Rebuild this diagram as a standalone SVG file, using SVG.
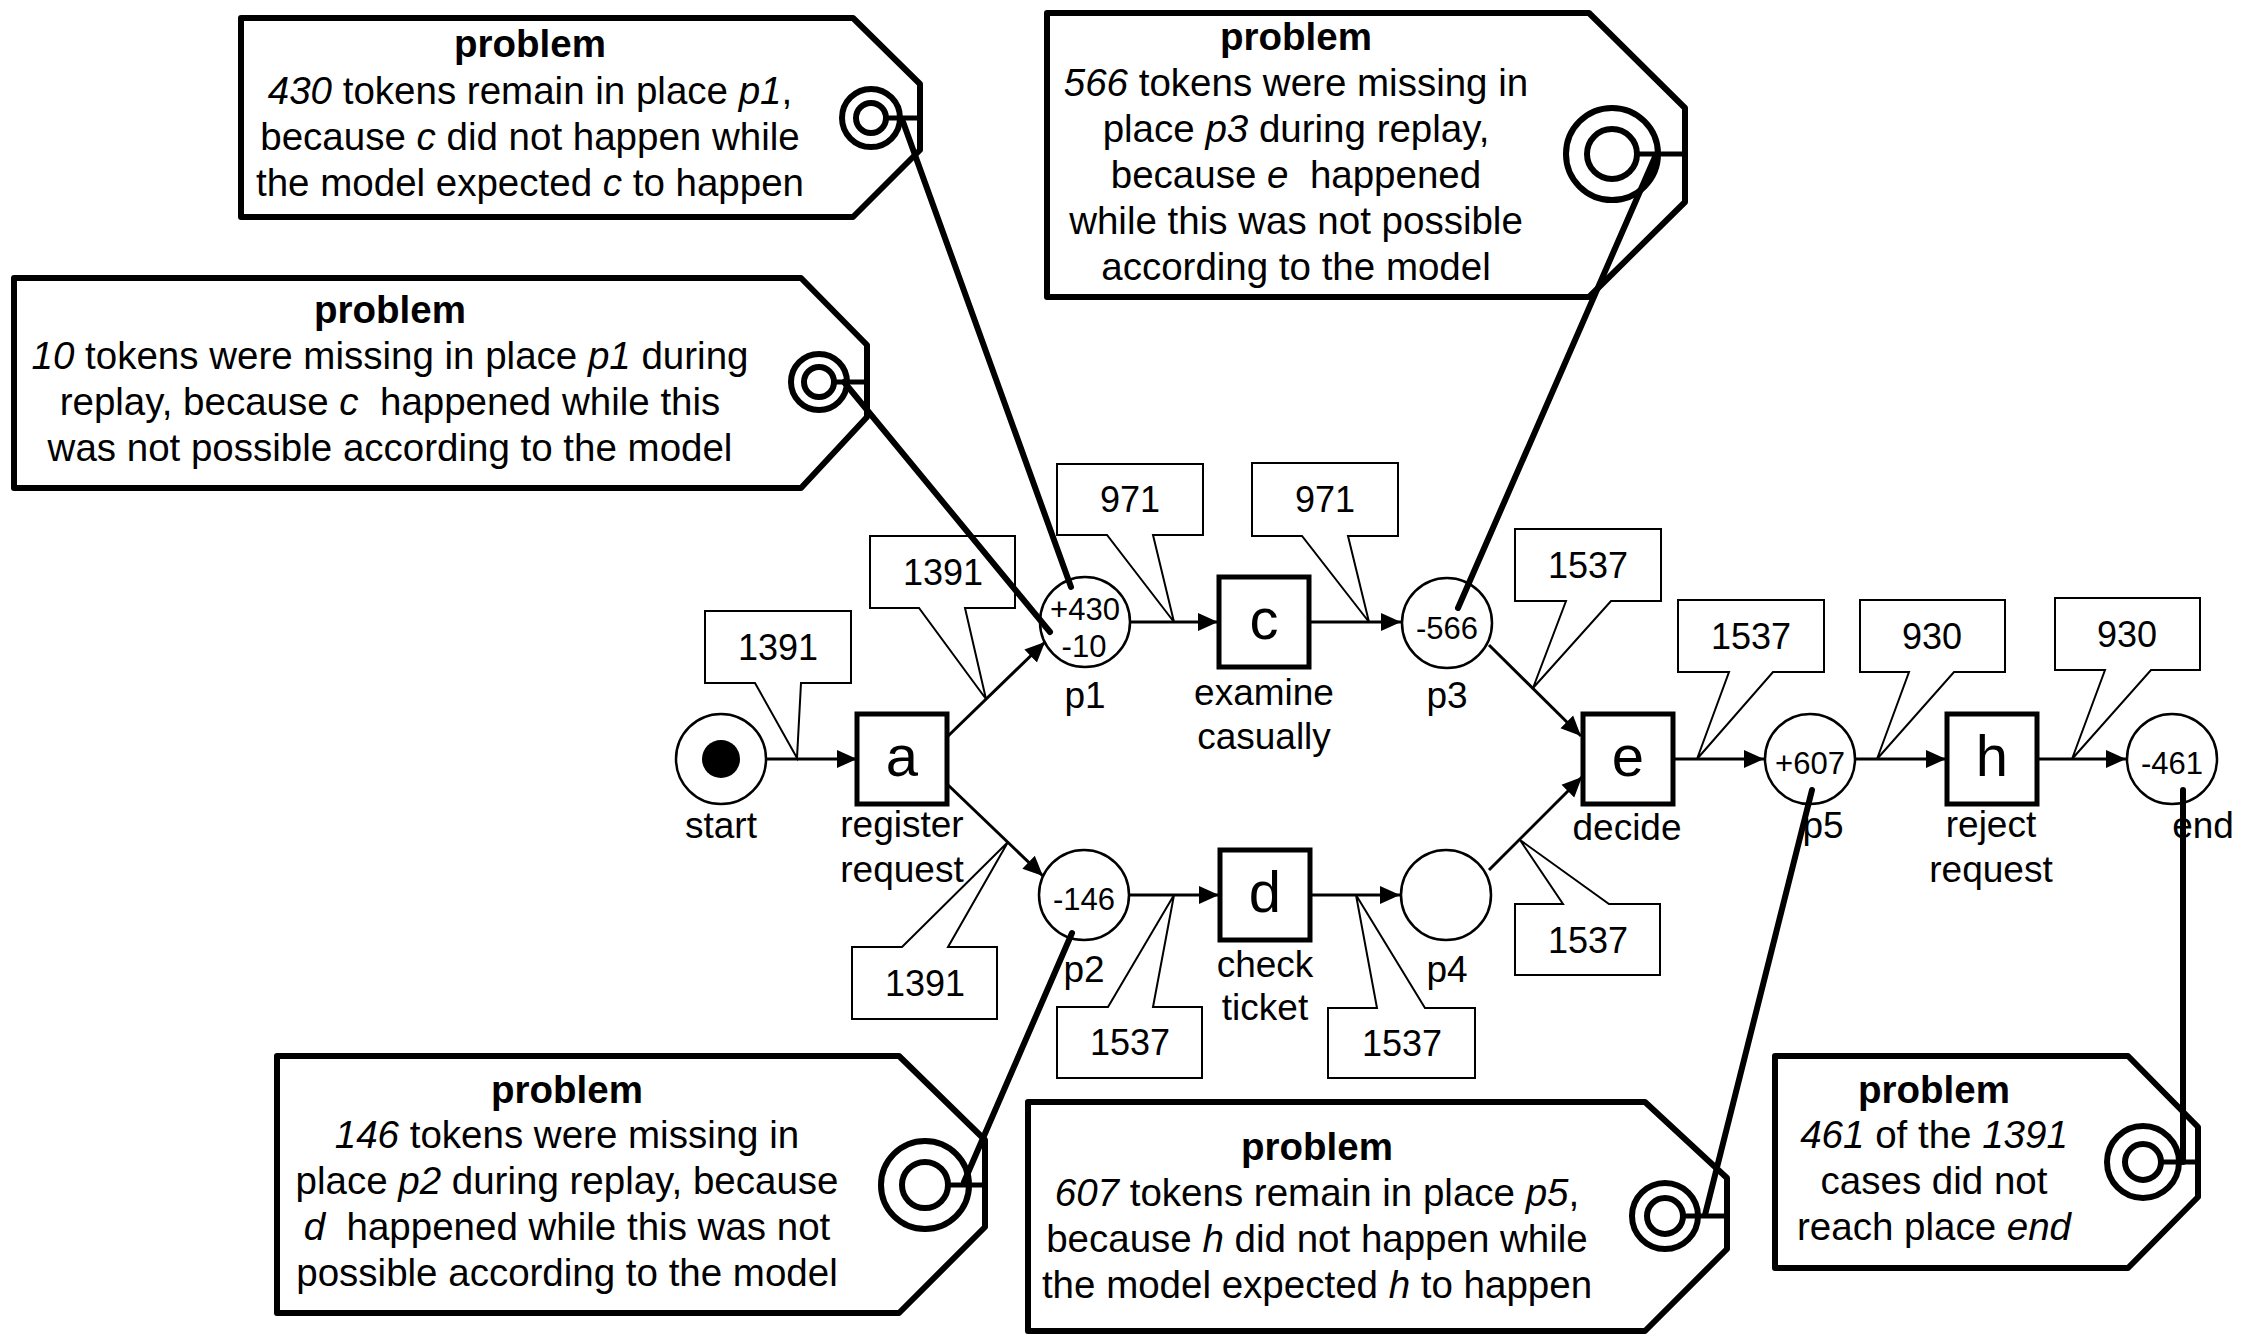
<svg xmlns="http://www.w3.org/2000/svg" width="2252" height="1336" viewBox="0 0 2252 1336">
<defs>
<marker id="ah" viewBox="0 0 20 20" refX="20" refY="10" markerWidth="20" markerHeight="20" markerUnits="userSpaceOnUse" orient="auto"><path d="M0,1 L20,10 L0,19 z" fill="#000"/></marker>
<style>
text{font-family:"Liberation Sans",Arial,sans-serif;fill:#000;text-anchor:middle}
.tag{fill:#fff;stroke:#000;stroke-width:6;stroke-linejoin:round}
.ring{fill:none;stroke:#000;stroke-width:6}
.stub{stroke:#000;stroke-width:5}
.conn{stroke:#000;stroke-width:6;stroke-linecap:round;fill:none}
.place{fill:#fff;stroke:#000;stroke-width:2.5}
.trans{fill:#fff;stroke:#000;stroke-width:5}
.arc{stroke:#000;stroke-width:3;fill:none;marker-end:url(#ah)}
.bub{fill:#fff;stroke:#000;stroke-width:2}
.tt{font-size:38.5px}
.tt .h{font-weight:bold}
.i{font-style:italic}
.lbl{font-size:37px}
.big{font-size:58px}
.num{font-size:31px}
.bn{font-size:36px}
</style>
</defs>
<rect width="2252" height="1336" fill="#fff"/>

<g id="arcs">
<line class="arc" x1="766" y1="759" x2="857" y2="759"/>
<line class="arc" x1="947" y1="737" x2="1045" y2="642"/>
<line class="arc" x1="947" y1="784" x2="1043" y2="876"/>
<line class="arc" x1="1130" y1="622" x2="1218" y2="622"/>
<line class="arc" x1="1310" y1="622" x2="1401" y2="622"/>
<line class="arc" x1="1489" y1="645" x2="1581" y2="736"/>
<line class="arc" x1="1489" y1="870" x2="1582" y2="777"/>
<line class="arc" x1="1672" y1="759" x2="1764" y2="759"/>
<line class="arc" x1="1855" y1="759" x2="1946" y2="759"/>
<line class="arc" x1="2037" y1="759" x2="2126" y2="759"/>
<line class="arc" x1="1129" y1="895" x2="1219" y2="895"/>
<line class="arc" x1="1311" y1="895" x2="1400" y2="895"/>
</g>

<g id="place-start"><circle class="place" cx="721" cy="759" r="45"/><circle cx="721" cy="759" r="19" fill="#000"/><text class="lbl" x="721" y="838">start</text></g>
<g id="place-p1"><circle class="place" cx="1085" cy="622" r="45"/><text class="num" x="1085" y="620">+430</text><text class="num" x="1084" y="657">-10</text><text class="lbl" x="1085" y="708">p1</text></g>
<g id="place-p3"><circle class="place" cx="1447" cy="623" r="45"/><text class="num" x="1447" y="639">-566</text><text class="lbl" x="1447" y="708">p3</text></g>
<g id="place-p2"><circle class="place" cx="1084" cy="895" r="45"/><text class="num" x="1084" y="910">-146</text><text class="lbl" x="1084" y="982">p2</text></g>
<g id="place-p4"><circle class="place" cx="1446" cy="895" r="45"/><text class="lbl" x="1447" y="982">p4</text></g>
<g id="place-p5"><circle class="place" cx="1810" cy="759" r="45"/><text class="num" x="1810" y="774">+607</text><text class="lbl" x="1823" y="838">p5</text></g>
<g id="place-end"><circle class="place" cx="2172" cy="759" r="45"/><text class="num" x="2172" y="774">-461</text><text class="lbl" x="2203" y="838">end</text></g>

<g id="trans-a"><rect class="trans" x="857" y="714" width="90" height="90"/><text class="big" x="902" y="776">a</text><text class="lbl" x="902" y="837">register</text><text class="lbl" x="902" y="882">request</text></g>
<g id="trans-c"><rect class="trans" x="1219" y="577" width="90" height="90"/><text class="big" x="1264" y="639">c</text><text class="lbl" x="1264" y="705">examine</text><text class="lbl" x="1264" y="749">casually</text></g>
<g id="trans-d"><rect class="trans" x="1220" y="850" width="90" height="90"/><text class="big" x="1265" y="912">d</text><text class="lbl" x="1265" y="977">check</text><text class="lbl" x="1265" y="1020">ticket</text></g>
<g id="trans-e"><rect class="trans" x="1583" y="714" width="90" height="90"/><text class="big" x="1628" y="776">e</text><text class="lbl" x="1627" y="840">decide</text></g>
<g id="trans-h"><rect class="trans" x="1947" y="714" width="90" height="90"/><text class="big" x="1992" y="776">h</text><text class="lbl" x="1991" y="837">reject</text><text class="lbl" x="1991" y="882">request</text></g>

<g id="bubbles">
<g id="b1"><path class="bub" d="M705,611 H851 V683 H801 L797,758 L755,683 H705 Z"/><text class="bn" x="778" y="660">1391</text></g>
<g id="b2"><path class="bub" d="M870,536 H1015 V608 H965 L986,699 L919,608 H870 Z"/><text class="bn" x="943" y="585">1391</text></g>
<g id="b3"><path class="bub" d="M1057,464 H1203 V535 H1153 L1174,622 L1107,535 H1057 Z"/><text class="bn" x="1130" y="512">971</text></g>
<g id="b4"><path class="bub" d="M1252,463 H1398 V536 H1348 L1369,622 L1302,536 H1252 Z"/><text class="bn" x="1325" y="512">971</text></g>
<g id="b5"><path class="bub" d="M1515,529 H1661 V601 H1611 L1533,688 L1566,601 H1515 Z"/><text class="bn" x="1588" y="578">1537</text></g>
<g id="b6"><path class="bub" d="M1678,600 H1824 V672 H1773 L1697,759 L1729,672 H1678 Z"/><text class="bn" x="1751" y="649">1537</text></g>
<g id="b7"><path class="bub" d="M1860,600 H2005 V672 H1954 L1877,759 L1909,672 H1860 Z"/><text class="bn" x="1932" y="649">930</text></g>
<g id="b8"><path class="bub" d="M2055,598 H2200 V670 H2151 L2072,759 L2105,670 H2055 Z"/><text class="bn" x="2127" y="647">930</text></g>
<g id="b9"><path class="bub" d="M852,1019 H997 V947 H948 L1008,842 L902,947 H852 Z"/><text class="bn" x="925" y="996">1391</text></g>
<g id="b10"><path class="bub" d="M1057,1078 H1202 V1007 H1153 L1174,895 L1108,1007 H1057 Z"/><text class="bn" x="1130" y="1055">1537</text></g>
<g id="b11"><path class="bub" d="M1328,1078 H1475 V1008 H1425 L1356,895 L1377,1008 H1328 Z"/><text class="bn" x="1402" y="1056">1537</text></g>
<g id="b12"><path class="bub" d="M1515,975 H1660 V904 H1609 L1520,840 L1563,904 H1515 Z"/><text class="bn" x="1588" y="953">1537</text></g>
</g>

<g id="tag1">
<polygon class="tag" points="241,18 853,18 920,84 920,150 853,217 241,217"/>
<circle class="ring" cx="871" cy="118" r="29"/><circle class="ring" cx="871" cy="118" r="15"/><line class="stub" x1="886" y1="118" x2="920" y2="118"/>
<text class="tt" xml:space="preserve"><tspan class="h" x="530" y="57">problem</tspan><tspan x="530" y="104"><tspan class="i">430</tspan> tokens remain in place <tspan class="i">p1</tspan>,</tspan><tspan x="530" y="150">because <tspan class="i">c</tspan> did not happen while</tspan><tspan x="530" y="196">the model expected <tspan class="i">c</tspan> to happen</tspan></text>
</g>
<g id="tag2">
<polygon class="tag" points="14,278 801,278 867,345 867,417 801,488 14,488"/>
<circle class="ring" cx="819" cy="382" r="28"/><circle class="ring" cx="819" cy="382" r="15"/><line class="stub" x1="834" y1="382" x2="867" y2="382"/>
<text class="tt" xml:space="preserve"><tspan class="h" x="390" y="323">problem</tspan><tspan x="390" y="369"><tspan class="i">10</tspan> tokens were missing in place <tspan class="i">p1</tspan> during</tspan><tspan x="390" y="415">replay, because <tspan class="i">c</tspan>  happened while this</tspan><tspan x="390" y="461">was not possible according to the model</tspan></text>
</g>
<g id="tag3">
<polygon class="tag" points="1047,13 1589,13 1685,108 1685,202 1589,297 1047,297"/>
<circle class="ring" cx="1612" cy="154" r="46"/><circle class="ring" cx="1612" cy="154" r="25"/><line class="stub" x1="1637" y1="154" x2="1685" y2="154"/>
<text class="tt" xml:space="preserve"><tspan class="h" x="1296" y="50">problem</tspan><tspan x="1296" y="96"><tspan class="i">566</tspan> tokens were missing in</tspan><tspan x="1296" y="142">place <tspan class="i">p3</tspan> during replay,</tspan><tspan x="1296" y="188">because <tspan class="i">e</tspan>  happened</tspan><tspan x="1296" y="234">while this was not possible</tspan><tspan x="1296" y="280">according to the model</tspan></text>
</g>
<g id="tag4">
<polygon class="tag" points="277,1056 899,1056 985,1140 985,1227 899,1313 277,1313"/>
<circle class="ring" cx="925" cy="1185" r="44"/><circle class="ring" cx="925" cy="1185" r="23"/><line class="stub" x1="948" y1="1185" x2="985" y2="1185"/>
<text class="tt" xml:space="preserve"><tspan class="h" x="567" y="1103">problem</tspan><tspan x="567" y="1148"><tspan class="i">146</tspan> tokens were missing in</tspan><tspan x="567" y="1194">place <tspan class="i">p2</tspan> during replay, because</tspan><tspan x="567" y="1240"><tspan class="i">d</tspan>  happened while this was not</tspan><tspan x="567" y="1286">possible according to the model</tspan></text>
</g>
<g id="tag5">
<polygon class="tag" points="1028,1102 1645,1102 1727,1178 1727,1249 1645,1331 1028,1331"/>
<circle class="ring" cx="1665" cy="1216" r="33"/><circle class="ring" cx="1665" cy="1216" r="18"/><line class="stub" x1="1683" y1="1216" x2="1727" y2="1216"/>
<text class="tt" xml:space="preserve"><tspan class="h" x="1317" y="1160">problem</tspan><tspan x="1317" y="1206"><tspan class="i">607</tspan> tokens remain in place <tspan class="i">p5</tspan>,</tspan><tspan x="1317" y="1252">because <tspan class="i">h</tspan> did not happen while</tspan><tspan x="1317" y="1298">the model expected <tspan class="i">h</tspan> to happen</tspan></text>
</g>
<g id="tag6">
<polygon class="tag" points="1775,1056 2128,1056 2198,1127 2198,1197 2128,1268 1775,1268"/>
<circle class="ring" cx="2143" cy="1162" r="36"/><circle class="ring" cx="2143" cy="1162" r="18"/><line class="stub" x1="2161" y1="1162" x2="2198" y2="1162"/>
<text class="tt" xml:space="preserve"><tspan class="h" x="1934" y="1103">problem</tspan><tspan x="1934" y="1148"><tspan class="i">461</tspan> of the <tspan class="i">1391</tspan></tspan><tspan x="1934" y="1194">cases did not</tspan><tspan x="1934" y="1240">reach place <tspan class="i">end</tspan></tspan></text>
</g>

<g id="connectors">
<line class="conn" x1="902" y1="119" x2="1071" y2="587"/>
<line class="conn" x1="844" y1="382" x2="1050" y2="632"/>
<line class="conn" x1="1655" y1="157" x2="1458" y2="608"/>
<line class="conn" x1="964" y1="1182" x2="1072" y2="933"/>
<line class="conn" x1="1705" y1="1215" x2="1812" y2="790"/>
<line class="conn" x1="2183" y1="1162" x2="2183" y2="790"/>
</g>
</svg>
